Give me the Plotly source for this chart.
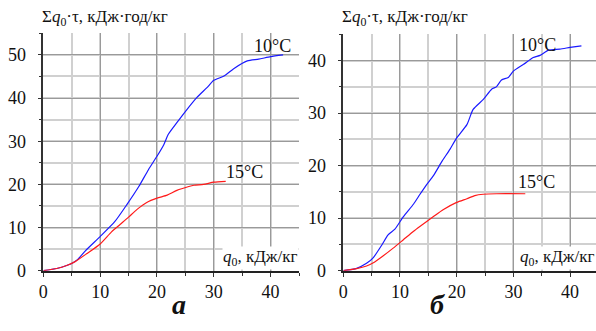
import plotly.graph_objects as go

# ---- data (panel а) ----
a10_x = [0, 2.35, 4.1, 5.3, 6.2, 7.4, 10, 12.6, 14.7, 16.8, 18.5, 20, 21.2, 22, 23.5, 25.3, 27, 28.8, 30, 31.8, 33.5, 35.9, 37.9, 40, 42.2]
a10_y = [0, 0.5, 1.2, 1.9, 2.8, 4.6, 7.9, 11.4, 15.3, 19.5, 23.4, 26.5, 29.2, 31.6, 34.3, 37.4, 40.1, 42.4, 44.1, 45.1, 46.8, 48.6, 49.0, 49.6, 50.0]
a15_x = [0, 2.35, 4.1, 5.6, 7.6, 10, 12, 13.5, 15, 16.5, 18.2, 20, 21.8, 23.5, 25.6, 26.5, 28.2, 30, 32.1]
a15_y = [0, 0.5, 1.2, 2.1, 3.9, 6.2, 9.0, 10.7, 12.4, 14.2, 15.8, 16.8, 17.5, 18.6, 19.5, 19.8, 20.0, 20.5, 20.7]

# ---- data (panel б) ----
b10_x = [0, 2.35, 4.1, 5.3, 6.8, 7.9, 9.1, 10.6, 12.4, 13.5, 14.7, 15.9, 17.4, 18.8, 20, 21.8, 22.9, 24.7, 26.2, 27, 27.9, 29.1, 30, 31.8, 33.5, 34.7, 36.2, 38.2, 40, 42]
b10_y = [0, 0.45, 1.4, 2.5, 4.9, 6.8, 7.9, 10.3, 12.7, 14.5, 16.4, 18.1, 20.8, 23.1, 25.3, 27.8, 30.7, 32.6, 34.6, 35, 36.3, 36.8, 38, 39.3, 40.6, 41, 42, 42.2, 42.5, 42.8]
b15_x = [0, 2.35, 4.1, 5.3, 7, 8.8, 10.6, 12.4, 13.5, 15.9, 17.6, 20, 21.8, 23.2, 24.7, 27, 32.1]
b15_y = [0, 0.4, 0.9, 1.5, 2.8, 4.3, 5.9, 7.5, 8.4, 10.3, 11.6, 13.0, 13.7, 14.3, 14.55, 14.65, 14.65]

x_tick_vals = [0, 10, 20, 30, 40]
a_y_ticks = [0, 10, 20, 30, 40, 50]
b_y_ticks = [0, 10, 20, 30, 40]

FONT = "Liberation Serif"
BLUE = "#1a1aff"
RED = "#ff1a1a"

fig = go.Figure()
line_kw = dict(width=1.2, shape="spline", smoothing=0.6)
fig.add_trace(go.Scatter(x=a10_x, y=a10_y, mode="lines", line=dict(color=BLUE, **line_kw), xaxis="x", yaxis="y", showlegend=False))
fig.add_trace(go.Scatter(x=a15_x, y=a15_y, mode="lines", line=dict(color=RED, **line_kw), xaxis="x", yaxis="y", showlegend=False))
fig.add_trace(go.Scatter(x=b10_x, y=b10_y, mode="lines", line=dict(color=BLUE, **line_kw), xaxis="x2", yaxis="y2", showlegend=False))
fig.add_trace(go.Scatter(x=b15_x, y=b15_y, mode="lines", line=dict(color=RED, **line_kw), xaxis="x2", yaxis="y2", showlegend=False))

def xaxis(domain, rng, anchor):
    return dict(domain=domain, range=rng, anchor=anchor, tickvals=x_tick_vals, automargin=False,
                ticks="outside", ticklen=4, tickcolor="#333", showline=True, linecolor="#222", linewidth=2,
                showgrid=True, gridcolor="#9a9a9a", gridwidth=1, zeroline=False,
                minor=dict(dtick=5, ticks="outside", ticklen=3, tickcolor="#333", showgrid=True, gridcolor="#d0d0d0", gridwidth=1.5),
                tickfont=dict(family=FONT, size=18, color="#111"), fixedrange=True)

def yaxis(domain, rng, anchor, tv):
    return dict(domain=domain, range=rng, anchor=anchor, tickvals=tv, automargin=False,
                ticks="outside", ticklen=4, tickcolor="#333", showline=True, linecolor="#333", linewidth=1.5,
                showgrid=True, gridcolor="#9a9a9a", gridwidth=1, zeroline=False, ticklabelstandoff=8,
                minor=dict(dtick=5, ticks="outside", ticklen=3, tickcolor="#333", showgrid=True, gridcolor="#d0d0d0", gridwidth=1.5),
                tickfont=dict(family=FONT, size=18, color="#111"), fixedrange=True)

fig.update_layout(
    width=596, height=331,
    margin=dict(l=0, r=0, t=0, b=0, autoexpand=False),
    paper_bgcolor="white", plot_bgcolor="white",
    xaxis=xaxis([0.0727, 0.5017], [0, 45], "y"),
    yaxis=yaxis([0.1822, 0.8994], [0, 55], "x", a_y_ticks),
    xaxis2=xaxis([0.576, 1.0], [0, 44.57], "y2"),
    yaxis2=yaxis([0.1822, 0.8963], [0, 45], "x2", b_y_ticks),
    font=dict(family=FONT, color="#111"),
)

ytitle = "Σ<i>q</i><sub>0</sub>·τ, кДж·год/кг"
xtitle = "<i>q</i><sub>0</sub>, кДж/кг"
ann = []
for px in (40, 340):
    ann.append(dict(x=px / 596, y=(331 - 18) / 331, xref="paper", yref="paper", text=ytitle,
                    showarrow=False, xanchor="left", yanchor="middle", font=dict(family=FONT, size=17)))
ann.append(dict(x=299 / 596, y=(331 - 258) / 331, xref="paper", yref="paper", text=xtitle,
                showarrow=False, xanchor="right", yanchor="middle", font=dict(family=FONT, size=17), bgcolor="white", borderpad=0))
ann.append(dict(x=596 / 596, y=(331 - 258) / 331, xref="paper", yref="paper", text=xtitle,
                showarrow=False, xanchor="right", yanchor="middle", font=dict(family=FONT, size=17), bgcolor="white", borderpad=0))
ann.append(dict(x=40.3, y=52, xref="x", yref="y", text="10°C", showarrow=False, font=dict(family=FONT, size=18)))
ann.append(dict(x=35.4, y=22.8, xref="x", yref="y", text="15°C", showarrow=False, font=dict(family=FONT, size=18)))
ann.append(dict(x=34.25, y=43, xref="x2", yref="y2", text="10°C", showarrow=False, font=dict(family=FONT, size=18)))
ann.append(dict(x=34.1, y=16.9, xref="x2", yref="y2", text="15°C", showarrow=False, font=dict(family=FONT, size=18)))
ann.append(dict(x=170 / 596, y=(331 - 322) / 331, xref="paper", yref="paper", text="<b><i>а</i></b>",
                showarrow=False, font=dict(family=FONT, size=28)))
ann.append(dict(x=447 / 596, y=(331 - 322) / 331, xref="paper", yref="paper", text="<b><i>б</i></b>",
                showarrow=False, font=dict(family=FONT, size=28)))
fig.update_layout(annotations=ann)

fig.write_html("out.html", config={"displayModeBar": False},
               post_script="document.body.style.margin='0';")
